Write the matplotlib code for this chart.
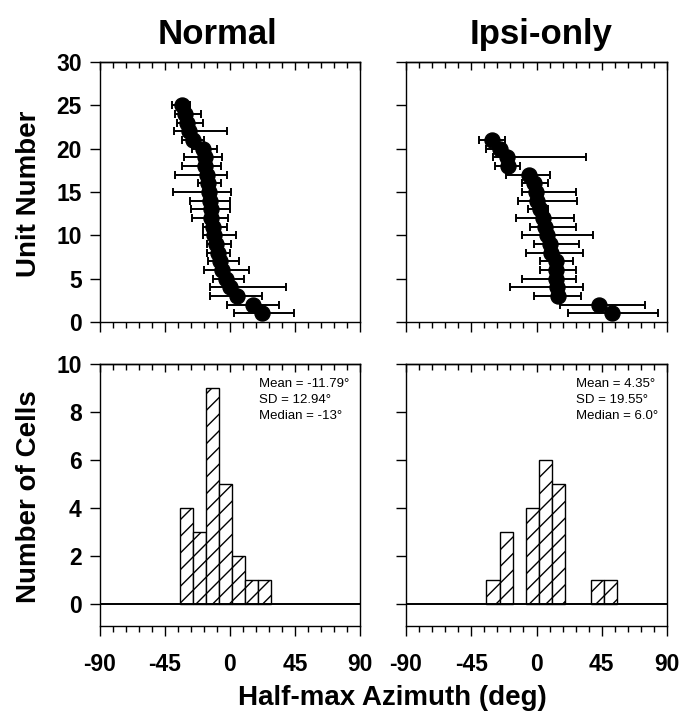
import numpy as np
import matplotlib
matplotlib.use('Agg')
import matplotlib.pyplot as plt
from matplotlib.ticker import MultipleLocator

plt.rcParams['font.family'] = ['Liberation Sans', 'DejaVu Sans']
plt.rcParams['font.weight'] = 'bold'
plt.rcParams['axes.unicode_minus'] = False
plt.rcParams['hatch.linewidth'] = 1.0
plt.rcParams['axes.linewidth'] = 1.0

# Normal: unita' 1..25, azimut a meta' massimo (deg) e estremi delle barre
normal_unit = [1, 2, 3, 4, 5, 6, 7, 8, 9, 10, 11, 12, 13,
               14, 15, 16, 17, 18, 19, 20, 21, 22, 23, 24, 25]
normal_az = [22, 16, 4.5, 0, -3, -5.5, -7, -8, -9.5, -11, -12, -13, -13.5,
             -14, -14.5, -15.5, -16, -17, -17.5, -18.5, -25.5, -28.5, -30, -31, -33.5]
normal_lo = [3, -2, -14, -14, -12, -18, -15, -16, -16, -19, -19, -26, -27,
             -28, -39.5, -22, -38, -33, -32, -26, -33, -39, -37, -38, -40.5]
normal_hi = [44, 34, 22, 39, 10, 13, 6, 0, 0.5, 4, -2, -1.5, 0,
             0, 0.5, -6.5, -2, -6.5, -5.5, -9, -18, -2, -19, -20, -28]

# Ipsi-only: unita' 1..21
ipsi_unit = [1, 2, 3, 4, 5, 6, 7, 8, 9, 10, 11,
             12, 13, 14, 15, 16, 17, 18, 19, 20, 21]
ipsi_az = [52, 43, 14.5, 14, 13.5, 13.5, 13.5, 10, 9, 7.5, 6,
           4.5, 2.5, 0.5, -0.5, -1.5, -5.5, -19.5, -20.5, -25, -31]
ipsi_lo = [22, 16, -1.5, -18.5, -10, 2.5, 2.5, -7, -1.5, -10, -4.5,
           -14, -6, -12.5, -10, -10, -21, -28.5, -30, -34.5, -39.5]
ipsi_hi = [84, 75, 31, 32, 27, 27, 25.5, 32, 29.5, 39, 27,
           26, 8, 28, 27, 8, 9, -11.5, 34, -21, -22]

# Istogrammi (bin da 9 deg)
bin_centers = [-30, -21, -12, -3, 6, 15, 24, 33, 42, 51]
normal_counts = [4, 3, 9, 5, 2, 1, 1, 0, 0, 0]
ipsi_counts = [1, 3, 0, 4, 6, 5, 0, 0, 1, 1]

normal_stats = "Mean = -11.79\u00b0\nSD = 12.94\u00b0\nMedian = -13\u00b0"
ipsi_stats = "Mean = 4.35\u00b0\nSD = 19.55\u00b0\nMedian = 6.0\u00b0"

W, H = 698, 715
fig = plt.figure(figsize=(W / 100, H / 100), dpi=100)


def box(l, t, r, b):
    return [l / W, 1 - b / H, (r - l) / W, (b - t) / H]


ax_tl = fig.add_axes(box(100, 62, 360, 322))
ax_tr = fig.add_axes(box(406, 62, 667, 322))
ax_bl = fig.add_axes(box(100, 364, 360, 626))
ax_br = fig.add_axes(box(406, 364, 667, 626))


def style_x(ax, labels):
    ax.set_xlim(-90, 90)
    ax.xaxis.set_major_locator(MultipleLocator(45))
    ax.xaxis.set_minor_locator(MultipleLocator(9))
    ax.tick_params(axis='x', which='major', direction='out', length=7.2, width=1.0,
                   pad=12, labelsize=16.5, labelbottom=labels)
    ax.tick_params(axis='x', which='minor', direction='out', length=4, width=1.0)
    sec = ax.secondary_xaxis('top')
    sec.xaxis.set_major_locator(MultipleLocator(45))
    sec.xaxis.set_minor_locator(MultipleLocator(9))
    sec.tick_params(which='major', direction='in', length=6, width=1.0, labeltop=False)
    sec.tick_params(which='minor', direction='in', length=4, width=1.0)


def style_y(ax, labels):
    ax.tick_params(axis='y', which='major', direction='out', length=7.2, width=1.0,
                   pad=6, labelsize=16.5, right=False, labelleft=labels)


# Pannelli superiori: unita' ordinate per azimut
for ax, az, unit, lo, hi, lab in [(ax_tl, normal_az, normal_unit, normal_lo, normal_hi, True),
                                  (ax_tr, ipsi_az, ipsi_unit, ipsi_lo, ipsi_hi, False)]:
    az = np.array(az)
    xerr = [az - np.array(lo), np.array(hi) - az]
    ax.errorbar(az, unit, xerr=xerr, fmt='o', color='black', ms=10.8,
                elinewidth=1.4, capsize=2.8, capthick=1.4)
    style_x(ax, False)
    ax.set_ylim(0, 30)
    ax.set_yticks([0, 5, 10, 15, 20, 25, 30])
    style_y(ax, lab)

# Pannelli inferiori: istogrammi (solo i bin non vuoti)
for ax, counts, stats, tx, lab in [(ax_bl, normal_counts, normal_stats, 0.61, True),
                                   (ax_br, ipsi_counts, ipsi_stats, 0.65, False)]:
    c = np.array(counts)
    x = np.array(bin_centers)
    ax.bar(x[c > 0], c[c > 0], width=9, color='white', edgecolor='black',
           hatch='//', linewidth=1.0)
    ax.axhline(0, color='black', lw=1.4)
    style_x(ax, True)
    ax.set_ylim(-0.9, 10)
    ax.set_yticks([0, 2, 4, 6, 8, 10])
    style_y(ax, lab)
    ax.text(tx, 0.945, stats, transform=ax.transAxes, ha='left', va='top',
            fontsize=9.5, fontweight='normal', linespacing=1.4)

# Titoli ed etichette
fig.text(217 / W, 1 - 44 / H, 'Normal', ha='center', va='baseline', fontsize=25, fontweight='bold')
fig.text(541 / W, 1 - 44 / H, 'Ipsi-only', ha='center', va='baseline', fontsize=25, fontweight='bold')
fig.text(29 / W, 1 - 194 / H, 'Unit Number', rotation=90, ha='center', va='center',
         fontsize=20, fontweight='bold')
fig.text(29 / W, 1 - 497 / H, 'Number of Cells', rotation=90, ha='center', va='center',
         fontsize=20, fontweight='bold')
fig.text(392 / W, 1 - 698 / H, 'Half-max Azimuth (deg)', ha='center', va='center',
         fontsize=20, fontweight='bold')

fig.savefig('out.png', dpi=100)
plt.close()
